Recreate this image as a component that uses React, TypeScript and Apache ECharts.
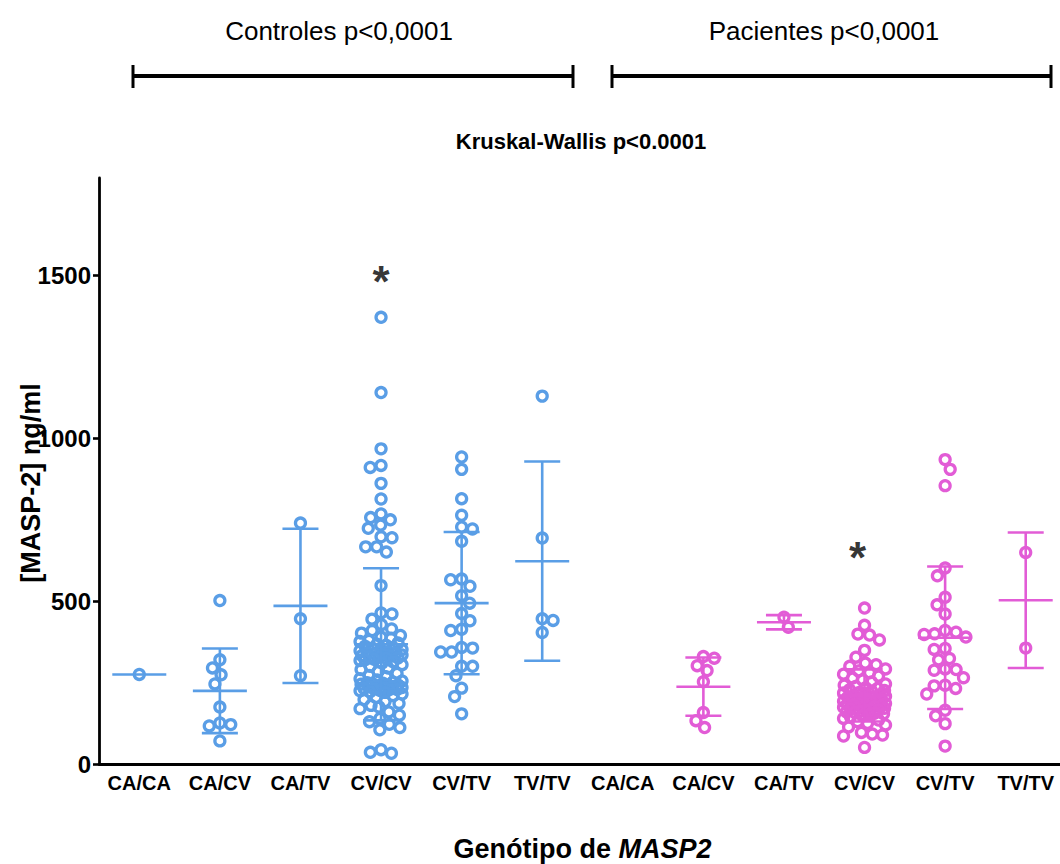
import React, { useEffect, useRef } from 'react';
import * as echarts from 'echarts';

// ---------- data ----------
const categories = ['CA/CA', 'CA/CV', 'CA/TV', 'CV/CV', 'CV/TV', 'TV/TV', 'CA/CA', 'CA/CV', 'CA/TV', 'CV/CV', 'CV/TV', 'TV/TV'];
const yTicks = [0, 500, 1000, 1500];

const ctrlCACA = [275];
const ctrlCACV = [502, 320, 295, 274, 246, 175, 126, 121, 117, 71];
const ctrlCATV = [740, 446, 271];
const ctrlCVCV = [
  1372, 1141, 968, 917, 911, 862, 814, 768, 757, 750, 734, 724, 698, 695, 667, 667, 651, 548, 464, 461, 445,
  428, 415, 410, 402, 395, 390, 386, 380, 376, 372, 368, 365, 362, 358, 356, 352, 350, 348, 345, 342, 340, 338,
  336, 335, 333, 331, 330, 328, 326, 325, 322, 320, 318, 314, 310, 305, 300, 295, 290, 284, 278, 272, 268, 262,
  258, 255, 252, 250, 248, 246, 245, 243, 242, 240, 238, 237, 235, 234, 232, 231, 229, 228, 226, 225, 222, 220,
  215, 210, 204, 198, 192, 186, 180, 175, 170, 160, 150, 140, 130, 122, 112, 105,
  44, 36, 33,
];
const ctrlCVTV = [943, 905, 815, 764, 728, 722, 684, 568, 566, 546, 517, 494, 462, 440, 414, 410, 358, 356, 344, 344, 300, 300, 271, 233, 207, 154];
const ctrlTVTV = [1130, 694, 446, 441, 404];

const patCACA: number[] = [];
const patCACV = [330, 325, 302, 287, 253, 158, 133, 112];
const patCATV = [451, 420];
const patCVCV = [
  479, 426, 399, 396, 381, 349, 328, 310, 305, 300, 292,
  286, 280, 276, 270, 264, 258, 252, 246, 242, 238, 234, 232, 228, 226, 224, 220, 218, 216, 212, 210, 208, 205,
  204, 202, 200, 199, 196, 195, 193, 191, 190, 188, 186, 185, 183, 182, 180, 178, 177, 175, 174, 172, 171, 169,
  168, 166, 165, 162, 160, 159, 156, 154, 152, 148, 144, 140, 135, 130, 125, 120, 114,
  97, 92, 89, 86, 51,
];
const patCVTV = [935, 905, 855, 602, 578, 512, 489, 461, 410, 405, 400, 398, 390, 355, 352, 324, 320, 292, 290, 288, 265, 242, 240, 232, 215, 165, 148, 124, 55];
const patTVTV = [650, 356];

const controlGroups = [ctrlCACA, ctrlCACV, ctrlCATV, ctrlCVCV, ctrlCVTV, ctrlTVTV];
const patientGroups = [patCACA, patCACV, patCATV, patCVCV, patCVTV, patTVTV];
const allGroups = [...controlGroups, ...patientGroups];

const seriesNames = ['Controles', 'Pacientes'];
const groupTitles = ['Controles p<0,0001', 'Pacientes p<0,0001'];
const testTitle = 'Kruskal-Wallis p<0.0001';
const yTitle = '[MASP-2] ng/ml';
// asterisks: [category index, value]
const starMarks: [number, number][] = [[3, 1483], [9, 634]];

// ---------- styles ----------
const BLUE = '#5a9ee6';
const PINK = '#e25cd6';
const FONT = '"Liberation Sans", Arial, sans-serif';
const R = 5;
const LW = 3.3;
const D = 11;
const MAXW = 21;

function mean(a: number[]) {
  return a.reduce((s, v) => s + v, 0) / a.length;
}
function sd(a: number[]) {
  const m = mean(a);
  return Math.sqrt(a.reduce((s, v) => s + (v - m) * (v - m), 0) / (a.length - 1));
}

function swarm(ys: number[], d: number, maxW: number): number[] {
  const order = ys.map((_, i) => i).sort((a, b) => ys[a] - ys[b]);
  const xs = new Array(ys.length).fill(0);
  const placed: number[] = [];
  let flip = 1;
  for (const i of order) {
    const y = ys[i];
    const intervals: [number, number][] = [];
    for (const j of placed) {
      const dy = Math.abs(ys[j] - y);
      if (dy < d) {
        const w = Math.sqrt(d * d - dy * dy);
        intervals.push([xs[j] - w, xs[j] + w]);
      }
    }
    const cands = [0];
    for (const [a, b] of intervals) cands.push(a, b);
    cands.sort((p, q) => Math.abs(p) - Math.abs(q) || (p - q) * flip);
    let best = NaN;
    for (const c of cands) {
      if (Math.abs(c) > maxW) continue;
      if (intervals.every(([a, b]) => c <= a + 1e-6 || c >= b - 1e-6)) {
        best = c;
        break;
      }
    }
    if (isNaN(best)) {
      let bestScore = -Infinity;
      for (let c = -maxW; c <= maxW; c += 1) {
        let m = Infinity;
        for (const j of placed) {
          const dd = Math.hypot(xs[j] - c, ys[j] - y);
          if (dd < m) m = dd;
        }
        const score = m - Math.abs(c) * 0.02;
        if (score > bestScore) {
          bestScore = score;
          best = c;
        }
      }
    }
    flip = -flip;
    xs[i] = best;
    placed.push(i);
  }
  return xs;
}

function makeRenderItem(offset: number, color: string) {
  return (params: any, api: any) => {
    const gi = params.dataIndex + offset;
    const vals = allGroups[gi];
    if (!vals || !vals.length) return null;
    const pts = vals.map((v) => api.coord([gi, v]));
    const cx = pts[0][0];
    const xs = swarm(pts.map((p: number[]) => p[1]), D, MAXW);
    const children: any[] = pts.map((p: number[], k: number) => ({
      type: 'circle',
      shape: { cx: cx + xs[k], cy: p[1], r: R },
      style: { fill: 'none', stroke: color, lineWidth: LW },
    }));
    const m = mean(vals);
    const my = api.coord([gi, m])[1];
    const lineStyle = { stroke: color, lineWidth: 2.6 };
    children.push({ type: 'line', shape: { x1: cx - 27, y1: my, x2: cx + 27, y2: my }, style: lineStyle });
    if (vals.length > 1) {
      const s = sd(vals);
      const ty = api.coord([gi, m + s])[1];
      const by = api.coord([gi, Math.max(m - s, 0)])[1];
      children.push({ type: 'line', shape: { x1: cx, y1: ty, x2: cx, y2: by }, style: lineStyle });
      children.push({ type: 'line', shape: { x1: cx - 18, y1: ty, x2: cx + 18, y2: ty }, style: lineStyle });
      children.push({ type: 'line', shape: { x1: cx - 18, y1: by, x2: cx + 18, y2: by }, style: lineStyle });
    }
    return { type: 'group', children };
  };
}

function bracket(x1: number, x2: number, y: number) {
  return [
    { type: 'line', shape: { x1, y1: y, x2, y2: y }, style: { stroke: '#000', lineWidth: 4 } },
    { type: 'line', shape: { x1, y1: y - 11, x2: x1, y2: y + 12 }, style: { stroke: '#000', lineWidth: 3 } },
    { type: 'line', shape: { x1: x2, y1: y - 11, x2, y2: y + 12 }, style: { stroke: '#000', lineWidth: 3 } },
  ];
}

function centeredText(text: string, x: number, y: number, font: string, rotation = 0) {
  return {
    type: 'text',
    x,
    y,
    rotation,
    style: { text, font, fill: '#000', align: 'center', verticalAlign: 'middle', textAlign: 'center', textVerticalAlign: 'middle' },
  };
}

export default function App() {
  const ref = useRef<HTMLDivElement>(null);
  useEffect(() => {
    if (!ref.current) return;
    const chart = echarts.init(ref.current, undefined, { renderer: 'svg' });
    const option: any = {
      animation: false,
      backgroundColor: '#fff',
      textStyle: { fontFamily: FONT },
      grid: { left: 99, right: -6, top: 178, bottom: 100, containLabel: false, outerBoundsMode: 'none' },
      xAxis: {
        type: 'category',
        data: categories,
        boundaryGap: true,
        axisLine: { lineStyle: { color: '#000', width: 2.8 } },
        axisTick: { alignWithLabel: true, length: 7, lineStyle: { color: '#000', width: 2.6 } },
        axisLabel: { color: '#000', fontWeight: 'bold', fontSize: 20, margin: 9, fontFamily: FONT, interval: 0 },
        splitLine: { show: false },
        name: 'Genótipo de {i|MASP2}',
        nameLocation: 'middle',
        nameGap: 71,
        nameTextStyle: {
          color: '#000', fontWeight: 'bold', fontSize: 27, fontFamily: FONT,
          rich: { i: { fontStyle: 'italic', fontWeight: 'bold', fontSize: 27, fontFamily: FONT, color: '#000' } },
        },
      },
      yAxis: {
        type: 'value',
        min: 0,
        max: 1800,
        axisLine: { show: true, lineStyle: { color: '#000', width: 2.8 } },
        axisTick: { show: true, length: 6, customValues: yTicks, lineStyle: { color: '#000', width: 2.6 } },
        axisLabel: {
          customValues: yTicks,
          formatter: (v: number) => String(v),
          color: '#000', fontWeight: 'bold', fontSize: 24, margin: 8, fontFamily: FONT,
        },
        splitLine: { show: false },
      },
      graphic: [
        centeredText(groupTitles[0], 339, 31, `26px ${FONT}`),
        centeredText(groupTitles[1], 824, 31, `26px ${FONT}`),
        centeredText(testTitle, 581, 141, `bold 22px ${FONT}`),
        centeredText(yTitle, 31, 483, `bold 27px ${FONT}`, Math.PI / 2),
        ...bracket(133, 573, 76),
        ...bracket(612, 1051, 76),
      ],
      series: [
        {
          name: seriesNames[0],
          type: 'custom',
          renderItem: makeRenderItem(0, BLUE),
          data: controlGroups.map((g, i) => [i, g.length ? mean(g) : 0]),
          encode: { x: 0, y: 1 },
          clip: false,
          z: 3,
        },
        {
          name: seriesNames[1],
          type: 'custom',
          renderItem: makeRenderItem(6, PINK),
          data: patientGroups.map((g, i) => [i + 6, g.length ? mean(g) : 0]),
          encode: { x: 0, y: 1 },
          clip: false,
          z: 3,
        },
        {
          name: 'sig',
          type: 'scatter',
          symbolSize: 0,
          data: starMarks.map((p, i) => ({
            value: p,
            label: { offset: i === 1 ? [-7, 0] : [0, 0] },
          })),
          label: { show: true, formatter: '*', color: '#000', fontSize: 44, fontWeight: 'bold', fontFamily: FONT, position: 'inside' },
          z: 4,
        },
      ],
    };
    chart.setOption(option);
    return () => chart.dispose();
  }, []);
  return <div ref={ref} style={{ position: 'absolute', left: 0, top: 0, width: 1060, height: 864 }} />;
}
